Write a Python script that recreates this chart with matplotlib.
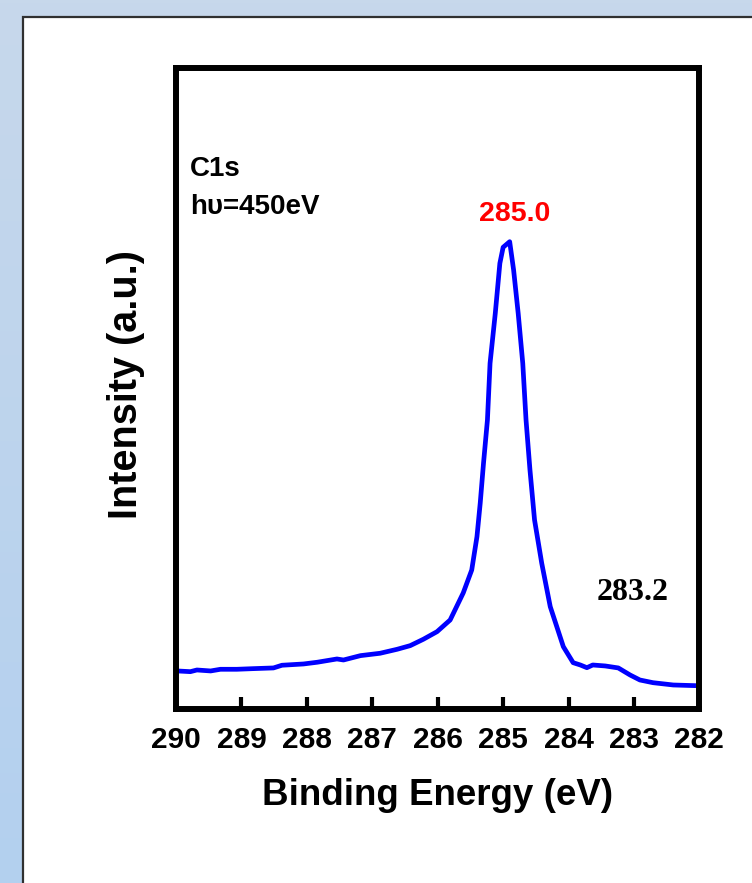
import matplotlib
matplotlib.use('Agg')
import matplotlib.pyplot as plt
import numpy as np
from matplotlib.colors import LinearSegmentedColormap
from matplotlib.patches import Rectangle

# C1s spectrum, hv = 450 eV
energy = [
    290.00, 289.98, 289.78, 289.68, 289.47, 289.32, 289.07, 288.82, 288.51,
    288.38, 288.05, 287.84, 287.54, 287.44, 287.18, 286.88, 286.62, 286.42,
    286.22, 286.01, 285.81, 285.61, 285.48, 285.40, 285.35, 285.30, 285.24,
    285.20, 285.12, 285.05, 285.00, 284.90, 284.84, 284.77, 284.70, 284.65,
    284.59, 284.52, 284.41, 284.28, 284.08, 283.93, 283.82, 283.72, 283.63,
    283.44, 283.24, 283.06, 282.91, 282.71, 282.40, 282.04, 282.00,
]
intensity = [
    5.95, 5.93, 5.82, 6.08, 5.93, 6.19, 6.19, 6.29, 6.40,
    6.82, 7.02, 7.29, 7.80, 7.64, 8.32, 8.69, 9.31, 9.88,
    10.87, 12.06, 13.88, 18.10, 21.68, 26.88, 32.14, 38.33, 45.09,
    53.93, 61.73, 69.53, 72.03, 72.90, 68.49, 61.73, 53.93, 45.09,
    37.29, 29.49, 22.73, 15.96, 9.72, 7.22, 6.86, 6.44, 6.86,
    6.71, 6.40, 5.30, 4.52, 4.10, 3.74, 3.63, 3.60,
]
ticks = [290, 289, 288, 287, 286, 285, 284, 283, 282]
peak_label = 285.0
shoulder_label = 283.2

plt.rcParams['font.family'] = ['Liberation Sans', 'DejaVu Sans']

fig = plt.figure(figsize=(7.52, 8.83), dpi=100)

# slide background with a white panel
bg = fig.add_axes([0, 0, 1, 1], zorder=-2)
grad = np.linspace(0, 1, 256)[:, None]
cmap = LinearSegmentedColormap.from_list('slide', ['#c7d8eb', '#b3d0ef'])
bg.imshow(grad, aspect='auto', cmap=cmap, extent=[0, 1, 0, 1])
bg.add_patch(Rectangle((23 / 752, -0.1), 1.1, (883 - 17) / 883 + 0.1,
                       facecolor='white', edgecolor='#303030', lw=1.6))
bg.set_xlim(0, 1)
bg.set_ylim(0, 1)
bg.set_axis_off()

ax = fig.add_axes([0.2340, 0.1971, 0.6961, 0.7259])
ax.plot(energy, intensity, color='#0000ff', lw=3.4, solid_joinstyle='round')
ax.set_xlim(290, 282)
ax.set_ylim(0, 100)
ax.set_xticks(ticks)
ax.set_yticks([])
ax.tick_params(axis='x', direction='in', length=9, width=3, pad=12,
               labelsize=21.5)
for lbl in ax.get_xticklabels():
    lbl.set_fontweight('bold')
for sp in ax.spines.values():
    sp.set_linewidth(4.3)

ax.set_xlabel('Binding Energy (eV)', fontsize=26.5, fontweight='bold',
              va='baseline')
ax.xaxis.set_label_coords(0.5, -0.15)
ax.set_ylabel('Intensity (a.u.)', fontsize=28.5, fontweight='bold',
              va='center')
ax.yaxis.set_label_coords(-0.0955, 0.5055)

ax.text(0.027, 0.8315, 'C1s', transform=ax.transAxes, fontsize=20,
        fontweight='bold')
ax.text(0.027, 0.7722, 'hυ=450eV', transform=ax.transAxes, fontsize=20,
        fontweight='bold')
ax.text(284.82, 76.2, f'{peak_label:.1f}', color='#ff0000', ha='center',
        fontsize=20.5, fontweight='bold')
ax.text(283.02, 17.0, f'{shoulder_label:.1f}', ha='center', fontsize=23,
        fontweight='bold', family=['Liberation Serif', 'DejaVu Serif'])

fig.savefig('out.png', dpi=100)
